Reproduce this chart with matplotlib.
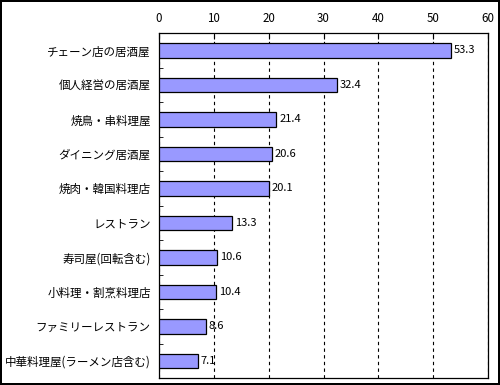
import matplotlib.pyplot as plt
import numpy as np

plt.rcParams['font.family'] = ['Noto Sans CJK JP', 'DejaVu Sans']

# data
categories = [
    'チェーン店の居酒屋',
    '個人経営の居酒屋',
    '焼鳥・串料理屋',
    'ダイニング居酒屋',
    '焼肉・韓国料理店',
    'レストラン',
    '寿司屋(回転含む)',
    '小料理・割烹料理店',
    'ファミリーレストラン',
    '中華料理屋(ラーメン店含む)',
]
values = [53.3, 32.4, 21.4, 20.6, 20.1, 13.3, 10.6, 10.4, 8.6, 7.1]
x_ticks = [0, 10, 20, 30, 40, 50, 60]

fig = plt.figure(figsize=(5, 3.85), dpi=100)
fig.patch.set_edgecolor('black')
fig.patch.set_linewidth(1.5)

ax = fig.add_axes([0.318, 0.018, 0.658, 0.896])
y = np.arange(len(categories))
ax.barh(y, values, height=0.42, color='#9999FF', edgecolor='black', linewidth=0.9, zorder=3)

# value labels
for yi, v in zip(y, values):
    ax.text(v + 0.5, yi, f'{v}', va='center', ha='left', fontsize=8, zorder=4)

ax.set_xlim(0, 60)
ax.set_ylim(len(categories) - 0.5, -0.5)
ax.set_xticks(x_ticks)
ax.xaxis.tick_top()
ax.tick_params(axis='x', direction='in', length=4, labelsize=8.3, pad=6)
ax.set_yticks(y)
ax.set_yticklabels(categories, fontsize=8.3)
ax.tick_params(axis='y', length=0, pad=6)
ax.set_yticks(np.arange(len(categories) + 1) - 0.5, minor=True)
ax.tick_params(axis='y', which='minor', direction='in', length=3)
ax.grid(axis='x', color='black', linestyle=(0, (3, 3)), linewidth=0.8, zorder=1)

for s in ax.spines.values():
    s.set_linewidth(0.9)

plt.savefig('out.png', dpi=100)
